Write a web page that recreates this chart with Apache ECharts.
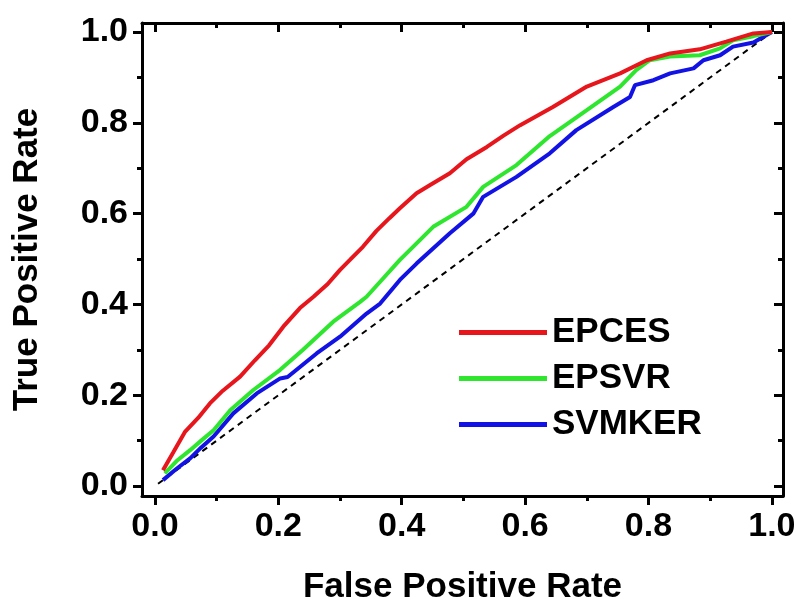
<!DOCTYPE html>
<html>
<head>
<meta charset="utf-8">
<script src="https://cdn.jsdelivr.net/npm/echarts@6/dist/echarts.min.js"></script>
<style>
  html, body { margin: 0; padding: 0; background: #fff; }
  #chart { width: 796px; height: 600px; }
</style>
</head>
<body>
<div id="chart"></div>
<script>
// ===== Data (FPR, TPR) =====
const epces = [
  [0.013, 0.035], [0.03, 0.075], [0.049, 0.12], [0.07, 0.15], [0.089, 0.182],
  [0.11, 0.21], [0.138, 0.241], [0.162, 0.277], [0.185, 0.31], [0.208, 0.351],
  [0.235, 0.392], [0.257, 0.417], [0.28, 0.445], [0.30, 0.476], [0.316, 0.498],
  [0.337, 0.527], [0.359, 0.562], [0.38, 0.59], [0.397, 0.612], [0.424, 0.645],
  [0.446, 0.663], [0.478, 0.689], [0.505, 0.72], [0.538, 0.747], [0.565, 0.772],
  [0.592, 0.795], [0.645, 0.835], [0.70, 0.88], [0.754, 0.909], [0.797, 0.938],
  [0.835, 0.953], [0.883, 0.962], [0.926, 0.979], [0.97, 0.997], [1.0, 1.0]
];
const epsvr = [
  [0.016, 0.028], [0.035, 0.055], [0.057, 0.079], [0.075, 0.10], [0.095, 0.123],
  [0.122, 0.167], [0.159, 0.211], [0.203, 0.256], [0.24, 0.30], [0.289, 0.362],
  [0.332, 0.405], [0.343, 0.417], [0.365, 0.45], [0.397, 0.498], [0.451, 0.571],
  [0.505, 0.615], [0.532, 0.659], [0.586, 0.707], [0.64, 0.771], [0.70, 0.828],
  [0.754, 0.88], [0.78, 0.916], [0.802, 0.938], [0.835, 0.946], [0.883, 0.949],
  [0.916, 0.964], [0.937, 0.982], [0.97, 0.991], [1.0, 1.0]
];
const svmker = [
  [0.013, 0.013], [0.035, 0.038], [0.057, 0.061], [0.075, 0.085], [0.095, 0.109],
  [0.127, 0.16], [0.165, 0.204], [0.203, 0.237], [0.215, 0.24], [0.262, 0.292],
  [0.30, 0.329], [0.343, 0.38], [0.365, 0.402], [0.397, 0.454], [0.424, 0.49],
  [0.478, 0.557], [0.516, 0.60], [0.532, 0.637], [0.586, 0.681], [0.64, 0.733],
  [0.683, 0.784], [0.743, 0.835], [0.77, 0.857], [0.778, 0.883], [0.808, 0.894],
  [0.835, 0.909], [0.873, 0.92], [0.889, 0.938], [0.916, 0.949], [0.937, 0.968],
  [0.97, 0.977], [1.0, 1.0]
];
const diagonal = [[0.005, 0.005], [1.0, 1.0]];

const seriesNames = ['EPCES', 'EPSVR', 'SVMKER'];
const majorTicks = [0, 0.2, 0.4, 0.6, 0.8, 1.0];
const minorTicks = [0.1, 0.3, 0.5, 0.7, 0.9];

// ===== Styles =====
const FONT = '"Liberation Sans", Arial, sans-serif';
const BLACK = '#000';

function axis(kind, position, ticks, len, inside, main) {
  return {
    type: 'value',
    position: position,
    min: kind === 'x' ? -0.021 : -0.022,
    max: kind === 'x' ? 1.018 : 1.02,
    splitLine: { show: false },
    axisLine: { show: main, onZero: false, lineStyle: { color: BLACK, width: 3 } },
    axisTick: { show: true, inside: inside, length: len, customValues: ticks, lineStyle: { color: BLACK, width: 3 } },
    axisLabel: { show: false }
  };
}

function labels(ax, margin) {
  ax.axisLabel = {
    show: true,
    customValues: majorTicks,
    formatter: v => v.toFixed(1),
    margin: margin,
    color: BLACK,
    fontFamily: FONT,
    fontWeight: 'bold',
    fontSize: 34
  };
  ax.nameLocation = 'middle';
  ax.nameTextStyle = { color: BLACK, fontFamily: FONT, fontWeight: 'bold', fontSize: 35 };
  return ax;
}

const xBottom = labels(axis('x', 'bottom', majorTicks, 9, false, true), 14);
xBottom.name = 'False Positive Rate';
xBottom.nameGap = 74;
const yLeft = labels(axis('y', 'left', majorTicks, 9, false, true), 14);
yLeft.name = 'True Positive Rate';
yLeft.nameGap = 97;

const chart = echarts.init(document.getElementById('chart'));
chart.setOption({
  backgroundColor: '#fff',
  animation: false,
  grid: { left: 142, right: 13, top: 23, bottom: 104, containLabel: false, outerBoundsMode: 'none' },
  xAxis: [
    xBottom,
    axis('x', 'bottom', minorTicks, 5, false, false),
    axis('x', 'top', majorTicks, 9, true, true),
    axis('x', 'top', minorTicks, 5, true, false)
  ],
  yAxis: [
    yLeft,
    axis('y', 'left', minorTicks, 5, false, false),
    axis('y', 'right', majorTicks, 9, true, true),
    axis('y', 'right', minorTicks, 5, true, false)
  ],
  legend: {
    data: seriesNames,
    orient: 'vertical',
    left: 459,
    top: 315,
    padding: 0,
    icon: 'rect',
    itemWidth: 88,
    itemHeight: 5,
    itemGap: 11,
    textStyle: { color: BLACK, fontFamily: FONT, fontWeight: 'bold', fontSize: 35, lineHeight: 34 }
  },
  series: [
    {
      name: 'diagonal', type: 'line', data: diagonal, symbol: 'none', silent: true,
      lineStyle: { color: BLACK, width: 2, type: [6, 5] }
    },
    {
      name: 'SVMKER', type: 'line', data: svmker, symbol: 'none',
      itemStyle: { color: '#1212e4' }, lineStyle: { color: '#1212e4', width: 4 }
    },
    {
      name: 'EPSVR', type: 'line', data: epsvr, symbol: 'none',
      itemStyle: { color: '#2ee62e' }, lineStyle: { color: '#2ee62e', width: 4 }
    },
    {
      name: 'EPCES', type: 'line', data: epces, symbol: 'none',
      itemStyle: { color: '#e6161c' }, lineStyle: { color: '#e6161c', width: 4 }
    }
  ]
});
</script>
</body>
</html>
